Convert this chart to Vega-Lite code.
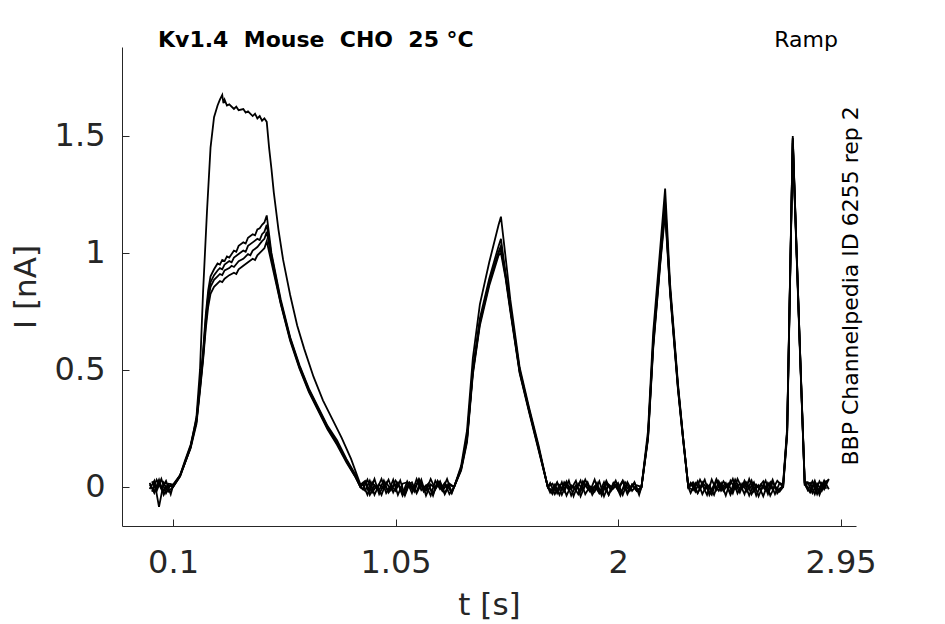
{
  "$schema": "https://vega.github.io/schema/vega-lite/v6.json",
  "width": 734,
  "height": 479,
  "autosize": "none",
  "padding": {"left": 122, "top": 47, "right": 89, "bottom": 98},
  "background": "white",
  "config": {
    "view": {"stroke": null},
    "font": "DejaVu Sans",
    "axis": {
      "grid": false,
      "domainColor": "#262626",
      "tickColor": "#262626",
      "labelColor": "#262626",
      "titleColor": "#262626",
      "labelFont": "DejaVu Sans",
      "titleFont": "DejaVu Sans",
      "labelFontSize": 32,
      "titleFontSize": 31,
      "titleFontWeight": "normal",
      "tickSize": -7,
      "domainWidth": 1,
      "tickWidth": 1
    }
  },
  "layer": [
    {
      "data": {
        "values": [
          {"s":1,"t":0,"i":0.017},{"s":1,"t":0.02,"i":-0.026},{"s":1,"t":0.04,"i":0.02},{"s":1,"t":0.06,"i":-0.017},{"s":1,"t":0.08,"i":0.014},
          {"s":1,"t":0.1,"i":0.01},{"s":1,"t":0.13,"i":0.05},{"s":1,"t":0.15,"i":0.1},{"s":1,"t":0.175,"i":0.17},{"s":1,"t":0.2,"i":0.3},{"s":1,"t":0.215,"i":0.5},{"s":1,"t":0.228,"i":0.83},{"s":1,"t":0.245,"i":1.18},{"s":1,"t":0.26,"i":1.45},{"s":1,"t":0.275,"i":1.58},{"s":1,"t":0.29,"i":1.63},{"s":1,"t":0.3,"i":1.655},{"s":1,"t":0.31,"i":1.675},{"s":1,"t":0.315,"i":1.64},{"s":1,"t":0.32,"i":1.655},{"s":1,"t":0.33,"i":1.63},{"s":1,"t":0.34,"i":1.635},{"s":1,"t":0.36,"i":1.615},{"s":1,"t":0.37,"i":1.625},{"s":1,"t":0.38,"i":1.61},{"s":1,"t":0.4,"i":1.615},{"s":1,"t":0.41,"i":1.6},{"s":1,"t":0.42,"i":1.605},{"s":1,"t":0.44,"i":1.585},{"s":1,"t":0.45,"i":1.595},{"s":1,"t":0.46,"i":1.575},{"s":1,"t":0.47,"i":1.585},{"s":1,"t":0.48,"i":1.565},{"s":1,"t":0.49,"i":1.575},{"s":1,"t":0.5,"i":1.56},
          {"s":1,"t":0.51,"i":1.45},{"s":1,"t":0.52,"i":1.36},{"s":1,"t":0.53,"i":1.26},{"s":1,"t":0.55,"i":1.1},{"s":1,"t":0.57,"i":0.97},{"s":1,"t":0.6,"i":0.82},{"s":1,"t":0.63,"i":0.69},{"s":1,"t":0.66,"i":0.59},{"s":1,"t":0.7,"i":0.47},{"s":1,"t":0.74,"i":0.37},{"s":1,"t":0.78,"i":0.29},{"s":1,"t":0.82,"i":0.21},{"s":1,"t":0.86,"i":0.12},{"s":1,"t":0.9,"i":0.01},
          {"s":1,"t":0.92,"i":0.026},{"s":1,"t":0.94,"i":-0.017},{"s":1,"t":0.96,"i":0.034},{"s":1,"t":0.98,"i":-0.031},{"s":1,"t":1.0,"i":0.009},{"s":1,"t":1.02,"i":-0.02},{"s":1,"t":1.04,"i":0.031},{"s":1,"t":1.06,"i":-0.034},{"s":1,"t":1.08,"i":0.014},{"s":1,"t":1.1,"i":0.02},{"s":1,"t":1.12,"i":-0.026},{"s":1,"t":1.14,"i":0.034},{"s":1,"t":1.16,"i":-0.014},{"s":1,"t":1.18,"i":0.007},{"s":1,"t":1.2,"i":-0.037},{"s":1,"t":1.22,"i":0.026},{"s":1,"t":1.24,"i":-0.009},{"s":1,"t":1.26,"i":0.017},{"s":1,"t":1.28,"i":-0.031},
          {"s":1,"t":1.3,"i":0},{"s":1,"t":1.33,"i":0.09},{"s":1,"t":1.355,"i":0.24},{"s":1,"t":1.38,"i":0.55},{"s":1,"t":1.41,"i":0.78},{"s":1,"t":1.45,"i":0.96},{"s":1,"t":1.49,"i":1.12},{"s":1,"t":1.5,"i":1.155},{"s":1,"t":1.52,"i":0.98},{"s":1,"t":1.54,"i":0.8},{"s":1,"t":1.58,"i":0.51},{"s":1,"t":1.62,"i":0.34},{"s":1,"t":1.66,"i":0.18},{"s":1,"t":1.7,"i":0},
          {"s":1,"t":1.72,"i":-0.017},{"s":1,"t":1.74,"i":0.02},{"s":1,"t":1.76,"i":-0.034},{"s":1,"t":1.78,"i":0.014},{"s":1,"t":1.8,"i":-0.009},{"s":1,"t":1.82,"i":0.026},{"s":1,"t":1.84,"i":-0.04},{"s":1,"t":1.86,"i":0.009},{"s":1,"t":1.88,"i":-0.02},{"s":1,"t":1.9,"i":0.031},{"s":1,"t":1.92,"i":-0.026},{"s":1,"t":1.94,"i":0.003},{"s":1,"t":1.96,"i":-0.034},{"s":1,"t":1.98,"i":0.017},{"s":1,"t":2.0,"i":-0.014},{"s":1,"t":2.02,"i":0.024},{"s":1,"t":2.04,"i":-0.031},{"s":1,"t":2.06,"i":0.01},{"s":1,"t":2.08,"i":-0.017},
          {"s":1,"t":2.1,"i":0},{"s":1,"t":2.128,"i":0.24},{"s":1,"t":2.15,"i":0.66},{"s":1,"t":2.18,"i":1.02},{"s":1,"t":2.201,"i":1.275},{"s":1,"t":2.222,"i":0.87},{"s":1,"t":2.256,"i":0.44},{"s":1,"t":2.278,"i":0.21},{"s":1,"t":2.3,"i":0},
          {"s":1,"t":2.32,"i":0.02},{"s":1,"t":2.34,"i":-0.026},{"s":1,"t":2.36,"i":0.009},{"s":1,"t":2.38,"i":-0.034},{"s":1,"t":2.4,"i":0.031},{"s":1,"t":2.42,"i":-0.014},{"s":1,"t":2.44,"i":0.017},{"s":1,"t":2.46,"i":-0.037},{"s":1,"t":2.48,"i":0.026},{"s":1,"t":2.5,"i":-0.009},{"s":1,"t":2.52,"i":0.014},{"s":1,"t":2.54,"i":-0.031},{"s":1,"t":2.56,"i":0.034},{"s":1,"t":2.58,"i":-0.02},{"s":1,"t":2.6,"i":0.007},{"s":1,"t":2.62,"i":-0.04},{"s":1,"t":2.64,"i":0.017},{"s":1,"t":2.66,"i":-0.01},{"s":1,"t":2.68,"i":0.026},
          {"s":1,"t":2.7,"i":0.005},{"s":1,"t":2.705,"i":0.02},{"s":1,"t":2.722,"i":0.25},{"s":1,"t":2.746,"i":1.5},{"s":1,"t":2.775,"i":0.64},{"s":1,"t":2.797,"i":0.02},
          {"s":1,"t":2.82,"i":-0.02},{"s":1,"t":2.84,"i":0.026},{"s":1,"t":2.86,"i":-0.034},{"s":1,"t":2.88,"i":0.017},{"s":1,"t":2.9,"i":0.031},

          {"s":2,"t":0.01,"i":-0.02},{"s":2,"t":0.03,"i":0.031},{"s":2,"t":0.05,"i":-0.009},{"s":2,"t":0.07,"i":0.026},{"s":2,"t":0.09,"i":-0.031},
          {"s":2,"t":0.1,"i":0.005},{"s":2,"t":0.13,"i":0.05},{"s":2,"t":0.15,"i":0.11},{"s":2,"t":0.175,"i":0.18},{"s":2,"t":0.2,"i":0.29},{"s":2,"t":0.215,"i":0.44},{"s":2,"t":0.228,"i":0.58},{"s":2,"t":0.24,"i":0.74},{"s":2,"t":0.25,"i":0.84},{"s":2,"t":0.26,"i":0.9},{"s":2,"t":0.275,"i":0.93},{"s":2,"t":0.29,"i":0.955},{"s":2,"t":0.3,"i":0.95},{"s":2,"t":0.31,"i":0.97},{"s":2,"t":0.32,"i":0.965},{"s":2,"t":0.33,"i":0.985},{"s":2,"t":0.34,"i":0.98},{"s":2,"t":0.36,"i":1.01},{"s":2,"t":0.37,"i":1.005},{"s":2,"t":0.38,"i":1.03},{"s":2,"t":0.4,"i":1.045},{"s":2,"t":0.41,"i":1.04},{"s":2,"t":0.42,"i":1.065},{"s":2,"t":0.44,"i":1.08},{"s":2,"t":0.45,"i":1.075},{"s":2,"t":0.46,"i":1.1},{"s":2,"t":0.47,"i":1.105},{"s":2,"t":0.48,"i":1.12},{"s":2,"t":0.49,"i":1.13},{"s":2,"t":0.5,"i":1.16},
          {"s":2,"t":0.52,"i":1.0},{"s":2,"t":0.54,"i":0.9},{"s":2,"t":0.56,"i":0.8},{"s":2,"t":0.6,"i":0.64},{"s":2,"t":0.64,"i":0.52},{"s":2,"t":0.68,"i":0.42},{"s":2,"t":0.72,"i":0.34},{"s":2,"t":0.76,"i":0.26},{"s":2,"t":0.8,"i":0.2},{"s":2,"t":0.84,"i":0.12},{"s":2,"t":0.88,"i":0.05},{"s":2,"t":0.9,"i":0},
          {"s":2,"t":0.91,"i":0.014},{"s":2,"t":0.93,"i":-0.034},{"s":2,"t":0.95,"i":0.02},{"s":2,"t":0.97,"i":-0.01},{"s":2,"t":0.99,"i":0.034},{"s":2,"t":1.01,"i":-0.026},{"s":2,"t":1.03,"i":0.007},{"s":2,"t":1.05,"i":-0.017},{"s":2,"t":1.07,"i":0.027},{"s":2,"t":1.09,"i":-0.037},{"s":2,"t":1.11,"i":0.017},{"s":2,"t":1.13,"i":-0.007},{"s":2,"t":1.15,"i":0.031},{"s":2,"t":1.17,"i":-0.02},{"s":2,"t":1.19,"i":0.01},{"s":2,"t":1.21,"i":-0.031},{"s":2,"t":1.23,"i":0.024},{"s":2,"t":1.25,"i":-0.014},{"s":2,"t":1.27,"i":0.034},{"s":2,"t":1.29,"i":-0.024},
          {"s":2,"t":1.3,"i":0},{"s":2,"t":1.33,"i":0.08},{"s":2,"t":1.355,"i":0.21},{"s":2,"t":1.38,"i":0.5},{"s":2,"t":1.41,"i":0.72},{"s":2,"t":1.45,"i":0.89},{"s":2,"t":1.49,"i":1.03},{"s":2,"t":1.5,"i":1.06},{"s":2,"t":1.52,"i":0.91},{"s":2,"t":1.54,"i":0.77},{"s":2,"t":1.58,"i":0.5},{"s":2,"t":1.62,"i":0.33},{"s":2,"t":1.66,"i":0.17},{"s":2,"t":1.7,"i":0},
          {"s":2,"t":1.71,"i":0.017},{"s":2,"t":1.73,"i":-0.031},{"s":2,"t":1.75,"i":0.007},{"s":2,"t":1.77,"i":-0.02},{"s":2,"t":1.79,"i":0.027},{"s":2,"t":1.81,"i":-0.04},{"s":2,"t":1.83,"i":0.014},{"s":2,"t":1.85,"i":-0.01},{"s":2,"t":1.87,"i":0.02},{"s":2,"t":1.89,"i":-0.034},{"s":2,"t":1.91,"i":0.003},{"s":2,"t":1.93,"i":-0.024},{"s":2,"t":1.95,"i":0.026},{"s":2,"t":1.97,"i":-0.017},{"s":2,"t":1.99,"i":0.01},{"s":2,"t":2.01,"i":-0.037},{"s":2,"t":2.03,"i":0.02},{"s":2,"t":2.05,"i":-0.007},{"s":2,"t":2.07,"i":0.017},{"s":2,"t":2.09,"i":-0.027},
          {"s":2,"t":2.1,"i":0},{"s":2,"t":2.128,"i":0.22},{"s":2,"t":2.15,"i":0.62},{"s":2,"t":2.18,"i":0.98},{"s":2,"t":2.201,"i":1.22},{"s":2,"t":2.222,"i":0.85},{"s":2,"t":2.256,"i":0.43},{"s":2,"t":2.278,"i":0.21},{"s":2,"t":2.3,"i":0},
          {"s":2,"t":2.31,"i":-0.026},{"s":2,"t":2.33,"i":0.017},{"s":2,"t":2.35,"i":-0.01},{"s":2,"t":2.37,"i":0.031},{"s":2,"t":2.39,"i":-0.034},{"s":2,"t":2.41,"i":0.009},{"s":2,"t":2.43,"i":-0.017},{"s":2,"t":2.45,"i":0.024},{"s":2,"t":2.47,"i":-0.007},{"s":2,"t":2.49,"i":0.034},{"s":2,"t":2.51,"i":-0.027},{"s":2,"t":2.53,"i":0.014},{"s":2,"t":2.55,"i":-0.02},{"s":2,"t":2.57,"i":0.027},{"s":2,"t":2.59,"i":-0.037},{"s":2,"t":2.61,"i":0.01},{"s":2,"t":2.63,"i":-0.014},{"s":2,"t":2.65,"i":0.02},{"s":2,"t":2.67,"i":-0.031},{"s":2,"t":2.69,"i":0.017},
          {"s":2,"t":2.705,"i":0.01},{"s":2,"t":2.722,"i":0.24},{"s":2,"t":2.746,"i":1.49},{"s":2,"t":2.775,"i":0.64},{"s":2,"t":2.797,"i":0.02},
          {"s":2,"t":2.81,"i":0.02},{"s":2,"t":2.83,"i":-0.026},{"s":2,"t":2.85,"i":0.014},{"s":2,"t":2.87,"i":-0.017},{"s":2,"t":2.89,"i":0.027},

          {"s":3,"t":0,"i":-0.009},{"s":3,"t":0.02,"i":0.026},{"s":3,"t":0.04,"i":-0.085},{"s":3,"t":0.06,"i":0.017},{"s":3,"t":0.08,"i":-0.02},
          {"s":3,"t":0.1,"i":0},{"s":3,"t":0.13,"i":0.045},{"s":3,"t":0.15,"i":0.1},{"s":3,"t":0.175,"i":0.17},{"s":3,"t":0.2,"i":0.28},{"s":3,"t":0.215,"i":0.43},{"s":3,"t":0.228,"i":0.56},{"s":3,"t":0.24,"i":0.72},{"s":3,"t":0.25,"i":0.82},{"s":3,"t":0.26,"i":0.875},{"s":3,"t":0.275,"i":0.905},{"s":3,"t":0.29,"i":0.925},{"s":3,"t":0.3,"i":0.935},{"s":3,"t":0.31,"i":0.93},{"s":3,"t":0.32,"i":0.95},{"s":3,"t":0.34,"i":0.965},{"s":3,"t":0.35,"i":0.96},{"s":3,"t":0.36,"i":0.98},{"s":3,"t":0.38,"i":0.995},{"s":3,"t":0.4,"i":1.01},{"s":3,"t":0.41,"i":1.005},{"s":3,"t":0.42,"i":1.03},{"s":3,"t":0.44,"i":1.045},{"s":3,"t":0.46,"i":1.06},{"s":3,"t":0.47,"i":1.055},{"s":3,"t":0.48,"i":1.08},{"s":3,"t":0.49,"i":1.09},{"s":3,"t":0.5,"i":1.12},
          {"s":3,"t":0.52,"i":0.99},{"s":3,"t":0.54,"i":0.89},{"s":3,"t":0.56,"i":0.79},{"s":3,"t":0.6,"i":0.635},{"s":3,"t":0.64,"i":0.515},{"s":3,"t":0.68,"i":0.415},{"s":3,"t":0.72,"i":0.335},{"s":3,"t":0.76,"i":0.255},{"s":3,"t":0.8,"i":0.19},{"s":3,"t":0.84,"i":0.115},{"s":3,"t":0.88,"i":0.045},{"s":3,"t":0.9,"i":0},
          {"s":3,"t":0.92,"i":-0.017},{"s":3,"t":0.94,"i":0.027},{"s":3,"t":0.96,"i":-0.034},{"s":3,"t":0.98,"i":0.01},{"s":3,"t":1.0,"i":-0.007},{"s":3,"t":1.02,"i":0.031},{"s":3,"t":1.04,"i":-0.024},{"s":3,"t":1.06,"i":0.017},{"s":3,"t":1.08,"i":-0.037},{"s":3,"t":1.1,"i":0.007},{"s":3,"t":1.12,"i":0.02},{"s":3,"t":1.14,"i":-0.027},{"s":3,"t":1.16,"i":0.014},{"s":3,"t":1.18,"i":-0.017},{"s":3,"t":1.2,"i":0.034},{"s":3,"t":1.22,"i":-0.01},{"s":3,"t":1.24,"i":0.024},{"s":3,"t":1.26,"i":-0.031},{"s":3,"t":1.28,"i":0.009},
          {"s":3,"t":1.3,"i":0},{"s":3,"t":1.33,"i":0.075},{"s":3,"t":1.355,"i":0.2},{"s":3,"t":1.38,"i":0.49},{"s":3,"t":1.41,"i":0.7},{"s":3,"t":1.45,"i":0.87},{"s":3,"t":1.49,"i":1.0},{"s":3,"t":1.5,"i":1.02},{"s":3,"t":1.52,"i":0.9},{"s":3,"t":1.54,"i":0.76},{"s":3,"t":1.58,"i":0.49},{"s":3,"t":1.62,"i":0.325},{"s":3,"t":1.66,"i":0.165},{"s":3,"t":1.7,"i":0},
          {"s":3,"t":1.72,"i":0.014},{"s":3,"t":1.74,"i":-0.027},{"s":3,"t":1.76,"i":0.02},{"s":3,"t":1.78,"i":-0.037},{"s":3,"t":1.8,"i":0.007},{"s":3,"t":1.82,"i":-0.014},{"s":3,"t":1.84,"i":0.027},{"s":3,"t":1.86,"i":-0.031},{"s":3,"t":1.88,"i":0.003},{"s":3,"t":1.9,"i":-0.02},{"s":3,"t":1.92,"i":0.024},{"s":3,"t":1.94,"i":-0.04},{"s":3,"t":1.96,"i":0.01},{"s":3,"t":1.98,"i":-0.007},{"s":3,"t":2.0,"i":0.017},{"s":3,"t":2.02,"i":-0.034},{"s":3,"t":2.04,"i":0.02},{"s":3,"t":2.06,"i":-0.017},{"s":3,"t":2.08,"i":0.007},
          {"s":3,"t":2.1,"i":0},{"s":3,"t":2.128,"i":0.21},{"s":3,"t":2.15,"i":0.6},{"s":3,"t":2.18,"i":0.96},{"s":3,"t":2.201,"i":1.19},{"s":3,"t":2.222,"i":0.84},{"s":3,"t":2.256,"i":0.42},{"s":3,"t":2.278,"i":0.2},{"s":3,"t":2.3,"i":0},
          {"s":3,"t":2.32,"i":-0.014},{"s":3,"t":2.34,"i":0.024},{"s":3,"t":2.36,"i":-0.031},{"s":3,"t":2.38,"i":0.01},{"s":3,"t":2.4,"i":-0.02},{"s":3,"t":2.42,"i":0.034},{"s":3,"t":2.44,"i":-0.007},{"s":3,"t":2.46,"i":0.017},{"s":3,"t":2.48,"i":-0.034},{"s":3,"t":2.5,"i":0.014},{"s":3,"t":2.52,"i":-0.024},{"s":3,"t":2.54,"i":0.027},{"s":3,"t":2.56,"i":-0.01},{"s":3,"t":2.58,"i":0.02},{"s":3,"t":2.6,"i":-0.04},{"s":3,"t":2.62,"i":0.007},{"s":3,"t":2.64,"i":-0.017},{"s":3,"t":2.66,"i":0.031},{"s":3,"t":2.68,"i":-0.027},
          {"s":3,"t":2.7,"i":0},{"s":3,"t":2.705,"i":0.01},{"s":3,"t":2.722,"i":0.23},{"s":3,"t":2.746,"i":1.48},{"s":3,"t":2.775,"i":0.63},{"s":3,"t":2.797,"i":0.01},
          {"s":3,"t":2.82,"i":0.017},{"s":3,"t":2.84,"i":-0.031},{"s":3,"t":2.86,"i":0.024},{"s":3,"t":2.88,"i":-0.01},{"s":3,"t":2.9,"i":0.034},

          {"s":4,"t":0.01,"i":0.024},{"s":4,"t":0.03,"i":-0.017},{"s":4,"t":0.05,"i":0.034},{"s":4,"t":0.07,"i":-0.027},{"s":4,"t":0.09,"i":0.01},
          {"s":4,"t":0.1,"i":0},{"s":4,"t":0.13,"i":0.05},{"s":4,"t":0.15,"i":0.105},{"s":4,"t":0.175,"i":0.175},{"s":4,"t":0.2,"i":0.28},{"s":4,"t":0.215,"i":0.42},{"s":4,"t":0.228,"i":0.55},{"s":4,"t":0.24,"i":0.7},{"s":4,"t":0.25,"i":0.8},{"s":4,"t":0.26,"i":0.855},{"s":4,"t":0.275,"i":0.885},{"s":4,"t":0.29,"i":0.9},{"s":4,"t":0.3,"i":0.91},{"s":4,"t":0.31,"i":0.905},{"s":4,"t":0.32,"i":0.925},{"s":4,"t":0.34,"i":0.935},{"s":4,"t":0.35,"i":0.945},{"s":4,"t":0.36,"i":0.94},{"s":4,"t":0.38,"i":0.965},{"s":4,"t":0.4,"i":0.975},{"s":4,"t":0.42,"i":0.995},{"s":4,"t":0.43,"i":0.99},{"s":4,"t":0.44,"i":1.01},{"s":4,"t":0.46,"i":1.025},{"s":4,"t":0.48,"i":1.05},{"s":4,"t":0.49,"i":1.06},{"s":4,"t":0.5,"i":1.09},
          {"s":4,"t":0.52,"i":0.98},{"s":4,"t":0.54,"i":0.88},{"s":4,"t":0.56,"i":0.785},{"s":4,"t":0.6,"i":0.63},{"s":4,"t":0.64,"i":0.51},{"s":4,"t":0.68,"i":0.41},{"s":4,"t":0.72,"i":0.33},{"s":4,"t":0.76,"i":0.25},{"s":4,"t":0.8,"i":0.185},{"s":4,"t":0.84,"i":0.11},{"s":4,"t":0.88,"i":0.04},{"s":4,"t":0.9,"i":0},
          {"s":4,"t":0.91,"i":-0.01},{"s":4,"t":0.93,"i":0.031},{"s":4,"t":0.95,"i":-0.024},{"s":4,"t":0.97,"i":0.007},{"s":4,"t":0.99,"i":-0.034},{"s":4,"t":1.01,"i":0.02},{"s":4,"t":1.03,"i":-0.014},{"s":4,"t":1.05,"i":0.027},{"s":4,"t":1.07,"i":-0.003},{"s":4,"t":1.09,"i":-0.031},{"s":4,"t":1.11,"i":0.017},{"s":4,"t":1.13,"i":-0.02},{"s":4,"t":1.15,"i":0.034},{"s":4,"t":1.17,"i":-0.007},{"s":4,"t":1.19,"i":0.014},{"s":4,"t":1.21,"i":-0.037},{"s":4,"t":1.23,"i":0.024},{"s":4,"t":1.25,"i":-0.017},{"s":4,"t":1.27,"i":0.01},{"s":4,"t":1.29,"i":-0.027},
          {"s":4,"t":1.3,"i":0},{"s":4,"t":1.33,"i":0.08},{"s":4,"t":1.355,"i":0.205},{"s":4,"t":1.38,"i":0.495},{"s":4,"t":1.41,"i":0.705},{"s":4,"t":1.45,"i":0.875},{"s":4,"t":1.49,"i":1.005},{"s":4,"t":1.5,"i":1.03},{"s":4,"t":1.52,"i":0.905},{"s":4,"t":1.54,"i":0.765},{"s":4,"t":1.58,"i":0.495},{"s":4,"t":1.62,"i":0.33},{"s":4,"t":1.66,"i":0.17},{"s":4,"t":1.7,"i":0},
          {"s":4,"t":1.71,"i":-0.024},{"s":4,"t":1.73,"i":0.01},{"s":4,"t":1.75,"i":-0.034},{"s":4,"t":1.77,"i":0.02},{"s":4,"t":1.79,"i":-0.014},{"s":4,"t":1.81,"i":0.003},{"s":4,"t":1.83,"i":-0.031},{"s":4,"t":1.85,"i":0.024},{"s":4,"t":1.87,"i":-0.007},{"s":4,"t":1.89,"i":-0.02},{"s":4,"t":1.91,"i":0.017},{"s":4,"t":1.93,"i":-0.037},{"s":4,"t":1.95,"i":0.014},{"s":4,"t":1.97,"i":-0.01},{"s":4,"t":1.99,"i":0.027},{"s":4,"t":2.01,"i":-0.027},{"s":4,"t":2.03,"i":0.007},{"s":4,"t":2.05,"i":-0.017},{"s":4,"t":2.07,"i":0.02},{"s":4,"t":2.09,"i":-0.034},
          {"s":4,"t":2.1,"i":0},{"s":4,"t":2.128,"i":0.215},{"s":4,"t":2.15,"i":0.61},{"s":4,"t":2.18,"i":0.97},{"s":4,"t":2.201,"i":1.2},{"s":4,"t":2.222,"i":0.845},{"s":4,"t":2.256,"i":0.425},{"s":4,"t":2.278,"i":0.205},{"s":4,"t":2.3,"i":0},
          {"s":4,"t":2.31,"i":0.017},{"s":4,"t":2.33,"i":-0.02},{"s":4,"t":2.35,"i":0.031},{"s":4,"t":2.37,"i":-0.01},{"s":4,"t":2.39,"i":0.007},{"s":4,"t":2.41,"i":-0.034},{"s":4,"t":2.43,"i":0.024},{"s":4,"t":2.45,"i":-0.017},{"s":4,"t":2.47,"i":0.014},{"s":4,"t":2.49,"i":-0.027},{"s":4,"t":2.51,"i":0.034},{"s":4,"t":2.53,"i":-0.007},{"s":4,"t":2.55,"i":0.02},{"s":4,"t":2.57,"i":-0.031},{"s":4,"t":2.59,"i":0.01},{"s":4,"t":2.61,"i":-0.014},{"s":4,"t":2.63,"i":0.027},{"s":4,"t":2.65,"i":-0.037},{"s":4,"t":2.67,"i":0.003},{"s":4,"t":2.69,"i":-0.02},
          {"s":4,"t":2.705,"i":0},{"s":4,"t":2.722,"i":0.24},{"s":4,"t":2.746,"i":1.49},{"s":4,"t":2.775,"i":0.635},{"s":4,"t":2.797,"i":0.015},
          {"s":4,"t":2.81,"i":-0.014},{"s":4,"t":2.83,"i":0.024},{"s":4,"t":2.85,"i":-0.031},{"s":4,"t":2.87,"i":0.017},{"s":4,"t":2.89,"i":-0.007},

          {"s":5,"t":0,"i":0.01},{"s":5,"t":0.02,"i":-0.02},{"s":5,"t":0.04,"i":0.031},{"s":5,"t":0.06,"i":-0.034},{"s":5,"t":0.08,"i":0.007},
          {"s":5,"t":0.1,"i":0},{"s":5,"t":0.13,"i":0.045},{"s":5,"t":0.15,"i":0.1},{"s":5,"t":0.175,"i":0.165},{"s":5,"t":0.2,"i":0.27},{"s":5,"t":0.215,"i":0.41},{"s":5,"t":0.228,"i":0.54},{"s":5,"t":0.24,"i":0.68},{"s":5,"t":0.25,"i":0.77},{"s":5,"t":0.26,"i":0.825},{"s":5,"t":0.275,"i":0.855},{"s":5,"t":0.29,"i":0.87},{"s":5,"t":0.3,"i":0.88},{"s":5,"t":0.31,"i":0.875},{"s":5,"t":0.32,"i":0.89},{"s":5,"t":0.34,"i":0.905},{"s":5,"t":0.36,"i":0.915},{"s":5,"t":0.37,"i":0.91},{"s":5,"t":0.38,"i":0.93},{"s":5,"t":0.4,"i":0.945},{"s":5,"t":0.42,"i":0.96},{"s":5,"t":0.44,"i":0.975},{"s":5,"t":0.45,"i":0.97},{"s":5,"t":0.46,"i":0.99},{"s":5,"t":0.48,"i":1.01},{"s":5,"t":0.49,"i":1.02},{"s":5,"t":0.5,"i":1.05},
          {"s":5,"t":0.52,"i":0.96},{"s":5,"t":0.54,"i":0.87},{"s":5,"t":0.56,"i":0.78},{"s":5,"t":0.6,"i":0.625},{"s":5,"t":0.64,"i":0.505},{"s":5,"t":0.68,"i":0.405},{"s":5,"t":0.72,"i":0.325},{"s":5,"t":0.76,"i":0.245},{"s":5,"t":0.8,"i":0.18},{"s":5,"t":0.84,"i":0.105},{"s":5,"t":0.88,"i":0.04},{"s":5,"t":0.9,"i":0},
          {"s":5,"t":0.92,"i":0.02},{"s":5,"t":0.94,"i":-0.034},{"s":5,"t":0.96,"i":0.007},{"s":5,"t":0.98,"i":-0.014},{"s":5,"t":1.0,"i":0.027},{"s":5,"t":1.02,"i":-0.024},{"s":5,"t":1.04,"i":0.003},{"s":5,"t":1.06,"i":0.017},{"s":5,"t":1.08,"i":-0.031},{"s":5,"t":1.1,"i":0.024},{"s":5,"t":1.12,"i":-0.01},{"s":5,"t":1.14,"i":-0.02},{"s":5,"t":1.16,"i":0.031},{"s":5,"t":1.18,"i":-0.037},{"s":5,"t":1.2,"i":0.01},{"s":5,"t":1.22,"i":-0.007},{"s":5,"t":1.24,"i":0.02},{"s":5,"t":1.26,"i":-0.027},{"s":5,"t":1.28,"i":0.014},
          {"s":5,"t":1.3,"i":0},{"s":5,"t":1.33,"i":0.07},{"s":5,"t":1.355,"i":0.19},{"s":5,"t":1.38,"i":0.48},{"s":5,"t":1.41,"i":0.69},{"s":5,"t":1.45,"i":0.86},{"s":5,"t":1.49,"i":0.99},{"s":5,"t":1.5,"i":1.0},{"s":5,"t":1.52,"i":0.89},{"s":5,"t":1.54,"i":0.75},{"s":5,"t":1.58,"i":0.485},{"s":5,"t":1.62,"i":0.32},{"s":5,"t":1.66,"i":0.16},{"s":5,"t":1.7,"i":0},
          {"s":5,"t":1.72,"i":-0.031},{"s":5,"t":1.74,"i":0.017},{"s":5,"t":1.76,"i":-0.01},{"s":5,"t":1.78,"i":0.024},{"s":5,"t":1.8,"i":-0.037},{"s":5,"t":1.82,"i":0.007},{"s":5,"t":1.84,"i":-0.02},{"s":5,"t":1.86,"i":0.031},{"s":5,"t":1.88,"i":-0.014},{"s":5,"t":1.9,"i":0.003},{"s":5,"t":1.92,"i":-0.027},{"s":5,"t":1.94,"i":0.02},{"s":5,"t":1.96,"i":-0.034},{"s":5,"t":1.98,"i":0.014},{"s":5,"t":2.0,"i":-0.007},{"s":5,"t":2.02,"i":0.027},{"s":5,"t":2.04,"i":-0.024},{"s":5,"t":2.06,"i":0.01},{"s":5,"t":2.08,"i":-0.017},
          {"s":5,"t":2.1,"i":0},{"s":5,"t":2.128,"i":0.205},{"s":5,"t":2.15,"i":0.59},{"s":5,"t":2.18,"i":0.95},{"s":5,"t":2.201,"i":1.17},{"s":5,"t":2.222,"i":0.83},{"s":5,"t":2.256,"i":0.415},{"s":5,"t":2.278,"i":0.2},{"s":5,"t":2.3,"i":0},
          {"s":5,"t":2.32,"i":0.01},{"s":5,"t":2.34,"i":-0.027},{"s":5,"t":2.36,"i":0.02},{"s":5,"t":2.38,"i":-0.007},{"s":5,"t":2.4,"i":-0.034},{"s":5,"t":2.42,"i":0.027},{"s":5,"t":2.44,"i":-0.017},{"s":5,"t":2.46,"i":0.007},{"s":5,"t":2.48,"i":-0.024},{"s":5,"t":2.5,"i":0.031},{"s":5,"t":2.52,"i":-0.01},{"s":5,"t":2.54,"i":0.017},{"s":5,"t":2.56,"i":-0.037},{"s":5,"t":2.58,"i":0.014},{"s":5,"t":2.6,"i":-0.003},{"s":5,"t":2.62,"i":0.024},{"s":5,"t":2.64,"i":-0.031},{"s":5,"t":2.66,"i":0.02},{"s":5,"t":2.68,"i":-0.014},
          {"s":5,"t":2.7,"i":0},{"s":5,"t":2.705,"i":0},{"s":5,"t":2.722,"i":0.22},{"s":5,"t":2.746,"i":1.47},{"s":5,"t":2.775,"i":0.62},{"s":5,"t":2.797,"i":0.01},
          {"s":5,"t":2.82,"i":-0.024},{"s":5,"t":2.84,"i":0.014},{"s":5,"t":2.86,"i":-0.017},{"s":5,"t":2.88,"i":0.027},{"s":5,"t":2.9,"i":-0.01}
        ]
      },
      "mark": {"type": "line", "color": "black", "strokeWidth": 1.8, "clip": true},
      "encoding": {
        "x": {
          "field": "t",
          "type": "quantitative",
          "title": "t [s]",
          "scale": {"domain": [-0.118, 3.016], "nice": false, "zero": false},
          "axis": {"values": [0.1, 1.05, 2, 2.95], "format": ".3~g", "labelPadding": 28, "titlePadding": 12}
        },
        "y": {
          "field": "i",
          "type": "quantitative",
          "title": "I [nA]",
          "scale": {"domain": [-0.167, 1.88], "nice": false, "zero": false},
          "axis": {"values": [0, 0.5, 1, 1.5], "format": ".2~g", "labelPadding": 24, "titlePadding": 12}
        },
        "detail": {"field": "s", "type": "nominal"}
      }
    },
    {
      "data": {"values": [{"k": 1}]},
      "mark": {"type": "text", "font": "DejaVu Sans", "fontWeight": "bold", "fontSize": 22, "align": "left", "baseline": "alphabetic", "color": "black"},
      "encoding": {
        "x": {"datum": 0.036, "type": "quantitative"},
        "y": {"datum": 1.88, "type": "quantitative"},
        "text": {"value": "Kv1.4\u00a0\u00a0Mouse\u00a0\u00a0CHO\u00a0\u00a025\u00a0°C"}
      }
    },
    {
      "data": {"values": [{"k": 1}]},
      "mark": {"type": "text", "font": "DejaVu Sans", "fontSize": 22, "align": "center", "baseline": "alphabetic", "color": "black"},
      "encoding": {
        "x": {"datum": 2.803, "type": "quantitative"},
        "y": {"datum": 1.88, "type": "quantitative"},
        "text": {"value": "Ramp"}
      }
    },
    {
      "data": {"values": [{"k": 1}]},
      "mark": {"type": "text", "font": "DejaVu Sans", "fontSize": 22, "align": "center", "baseline": "middle", "angle": 270, "color": "black"},
      "encoding": {
        "x": {"datum": 2.995, "type": "quantitative"},
        "y": {"datum": 0.859, "type": "quantitative"},
        "text": {"value": "BBP Channelpedia ID 6255 rep 2"}
      }
    }
  ]
}
